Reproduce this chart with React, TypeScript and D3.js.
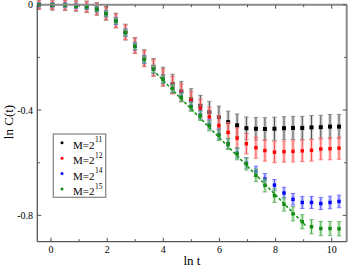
import React from 'react';
import * as d3 from 'd3';

// ln t positions of the measurements
const lnT = [-0.43, 0.05, 0.5, 0.89, 1.27, 1.63, 1.96, 2.31, 2.65, 2.99, 3.32, 3.65, 3.99, 4.33, 4.64, 4.99,
  5.32, 5.64, 5.98, 6.31, 6.63, 6.96, 7.30, 7.62, 7.96, 8.30, 8.62, 8.95, 9.28, 9.61, 9.94, 10.26];

const yM11 = [0, -0.001, -0.002, -0.005, -0.008, -0.016, -0.033, -0.060, -0.104, -0.155, -0.203, -0.238, -0.273,
  -0.301, -0.329, -0.359, -0.384, -0.408, -0.427, -0.446, -0.458, -0.469, -0.471, -0.472, -0.471, -0.469,
  -0.468, -0.468, -0.466, -0.465, -0.463, -0.463];
const eM11 = [0.018, 0.02, 0.02, 0.02, 0.022, 0.024, 0.026, 0.028, 0.03, 0.03, 0.032, 0.034, 0.036, 0.037, 0.038,
  0.04, 0.04, 0.041, 0.042, 0.042, 0.043, 0.043, 0.043, 0.043, 0.044, 0.044, 0.044, 0.044, 0.045, 0.045, 0.046, 0.046];

const yM12 = [0, -0.001, -0.002, -0.005, -0.008, -0.016, -0.033, -0.061, -0.105, -0.156, -0.205, -0.240, -0.276,
  -0.306, -0.335, -0.365, -0.395, -0.426, -0.459, -0.485, -0.507, -0.528, -0.543, -0.554, -0.560, -0.558,
  -0.557, -0.555, -0.553, -0.548, -0.547, -0.545];
const eM12 = [0.015, 0.016, 0.017, 0.018, 0.02, 0.022, 0.024, 0.026, 0.028, 0.029, 0.03, 0.031, 0.032, 0.033, 0.034,
  0.035, 0.036, 0.037, 0.038, 0.038, 0.039, 0.039, 0.04, 0.04, 0.04, 0.04, 0.04, 0.041, 0.041, 0.041, 0.042, 0.042];

const yM14 = [0, -0.001, -0.002, -0.005, -0.008, -0.017, -0.034, -0.062, -0.106, -0.158, -0.208, -0.245, -0.283,
  -0.318, -0.350, -0.385, -0.418, -0.455, -0.492, -0.528, -0.563, -0.601, -0.633, -0.662, -0.685, -0.715,
  -0.739, -0.751, -0.751, -0.755, -0.751, -0.747];
const eM14 = [0.008, 0.008, 0.009, 0.009, 0.01, 0.011, 0.012, 0.013, 0.014, 0.014, 0.015, 0.015, 0.016, 0.016, 0.017,
  0.017, 0.018, 0.018, 0.019, 0.019, 0.019, 0.02, 0.02, 0.021, 0.021, 0.022, 0.022, 0.023, 0.023, 0.023, 0.024, 0.024];

const yM15 = [0, -0.001, -0.002, -0.005, -0.008, -0.017, -0.034, -0.062, -0.106, -0.158, -0.208, -0.245, -0.283,
  -0.318, -0.352, -0.388, -0.422, -0.460, -0.496, -0.529, -0.567, -0.605, -0.648, -0.686, -0.725, -0.758,
  -0.794, -0.824, -0.843, -0.850, -0.850, -0.851];
const eM15 = [0.006, 0.006, 0.007, 0.007, 0.008, 0.009, 0.01, 0.011, 0.012, 0.012, 0.013, 0.014, 0.015, 0.015, 0.016,
  0.017, 0.018, 0.019, 0.02, 0.021, 0.022, 0.023, 0.024, 0.025, 0.026, 0.026, 0.027, 0.027, 0.027, 0.027, 0.027, 0.027];

// dashed power-law fit (green)
const fitX = [3.75, 9.1];
const fitY = [-0.261, -0.842];

const legendExp = ['11', '12', '14', '15'];
const xMajor = [0, 2, 4, 6, 8, 10];
const xMinor = [1, 3, 5, 7, 9];
const yMajor = [0, -0.4, -0.8];
const yMinor = [-0.2, -0.6];

const series = [
  { y: yM11, e: eM11, color: '#000000', line: '#333333', band: '#b4b4b4', cap: '#777777', size: 4 },
  { y: yM12, e: eM12, color: '#ff0000', line: '#ff3030', band: '#ffa8a8', cap: '#ff6060', size: 3.4 },
  { y: yM14, e: eM14, color: '#0000ff', line: '#3030ff', band: '#a8a8ff', cap: '#6060ff', size: 3.4 },
  { y: yM15, e: eM15, color: '#108a10', line: '#30a030', band: '#a8dca8', cap: '#50b050', size: 3.4 },
];

export default function App() {
  const W = 349, H = 270;
  const L = 37.3, R = 346.7, T = 4.7, B = 241.7;
  const x = d3.scaleLinear().domain([-0.5, 10.53]).range([37, 346.6]);
  const y = d3.scaleLinear().domain([-0.9, 0]).range([B, T]);
  const font = "'Liberation Serif', 'DejaVu Serif', serif";
  const fitLine = d3.line<number>().x((d) => x(fitX[d])).y((d) => y(fitY[d]))([0, 1]) || '';
  const tickColor = '#555';

  return (
    <svg width={W} height={H} style={{ position: 'absolute', left: 0, top: 0, background: '#fff' }}
      fontFamily={font}>
      <rect x={0} y={0} width={W} height={H} fill="#fff" />
      {/* data */}
      {series.map((s, si) => (
        <g key={si}>
          {lnT.map((t, i) => {
            const cx = x(t), cy = y(s.y[i]);
            const y1 = y(s.y[i] + s.e[i]), y2 = y(s.y[i] - s.e[i]);
            return (
              <g key={i}>
                <rect x={cx - 1.8} y={y1} width={3.6} height={y2 - y1} fill={s.band} opacity={0.55} />
                <line x1={cx} x2={cx} y1={y1} y2={y2} stroke={s.line} strokeWidth={0.8} />
                <line x1={cx - 2.2} x2={cx + 2.2} y1={y1} y2={y1} stroke={s.cap} strokeWidth={0.8} />
                <line x1={cx - 2.2} x2={cx + 2.2} y1={y2} y2={y2} stroke={s.cap} strokeWidth={0.8} />
                <rect x={cx - s.size / 2} y={cy - s.size / 2} width={s.size} height={s.size} fill={s.color} />
              </g>
            );
          })}
        </g>
      ))}
      <path d={fitLine} stroke="#1a9a1a" strokeWidth={1.6} strokeDasharray="3,2" fill="none" />

      {/* frame */}
      <line x1={L} x2={R} y1={T} y2={T} stroke="#8a8a8a" strokeWidth={2} />
      <line x1={R} x2={R} y1={T} y2={B} stroke="#8a8a8a" strokeWidth={2} />
      <line x1={L} x2={L} y1={T} y2={B} stroke="#555" strokeWidth={1.3} />
      <line x1={L} x2={R} y1={B} y2={B} stroke="#555" strokeWidth={1.3} />

      {/* x ticks */}
      {xMajor.map((v) => (
        <g key={'xm' + v}>
          <line x1={x(v)} x2={x(v)} y1={B} y2={B - 4} stroke={tickColor} strokeWidth={1} />
          <line x1={x(v)} x2={x(v)} y1={T} y2={T + 4} stroke={tickColor} strokeWidth={1} />
          <text x={x(v)} y={252.5} fontSize={10} textAnchor="middle" fill="#000">{v}</text>
        </g>
      ))}
      {xMinor.map((v) => (
        <g key={'xn' + v}>
          <line x1={x(v)} x2={x(v)} y1={B} y2={B - 2.5} stroke={tickColor} strokeWidth={1} />
          <line x1={x(v)} x2={x(v)} y1={T} y2={T + 2.5} stroke={tickColor} strokeWidth={1} />
        </g>
      ))}
      {/* y ticks */}
      {yMajor.map((v) => (
        <g key={'ym' + v}>
          <line x1={L} x2={L + 4} y1={y(v)} y2={y(v)} stroke={tickColor} strokeWidth={1} />
          <line x1={R} x2={R - 4} y1={y(v)} y2={y(v)} stroke={tickColor} strokeWidth={1} />
          <text x={33} y={y(v) + 3.5} fontSize={10} textAnchor="end" fill="#000">{v === 0 ? '0' : String(v)}</text>
        </g>
      ))}
      {yMinor.map((v) => (
        <g key={'yn' + v}>
          <line x1={L} x2={L + 2.5} y1={y(v)} y2={y(v)} stroke={tickColor} strokeWidth={1} />
          <line x1={R} x2={R - 2.5} y1={y(v)} y2={y(v)} stroke={tickColor} strokeWidth={1} />
        </g>
      ))}

      {/* axis titles */}
      <text x={192} y={265} fontSize={13} textAnchor="middle" fill="#000">ln t</text>
      <text transform="translate(12.5,122) rotate(-90)" fontSize={13} textAnchor="middle" fill="#000">ln C(t)</text>

      {/* legend */}
      <rect x={53.3} y={134} width={52.4} height={63.3} fill="#fff" stroke="#8a8a8a" strokeWidth={1.3} />
      {series.map((s, i) => {
        const ly = 142.8 + i * 15.4;
        return (
          <g key={'lg' + i}>
            <circle cx={62} cy={ly} r={1.5} fill={s.color} />
            <text x={73} y={ly + 6} fontSize={11} fill="#000">
              M=2<tspan dy={-6.5} fontSize={7.5} dx={0.5}>{legendExp[i]}</tspan>
            </text>
          </g>
        );
      })}
    </svg>
  );
}
